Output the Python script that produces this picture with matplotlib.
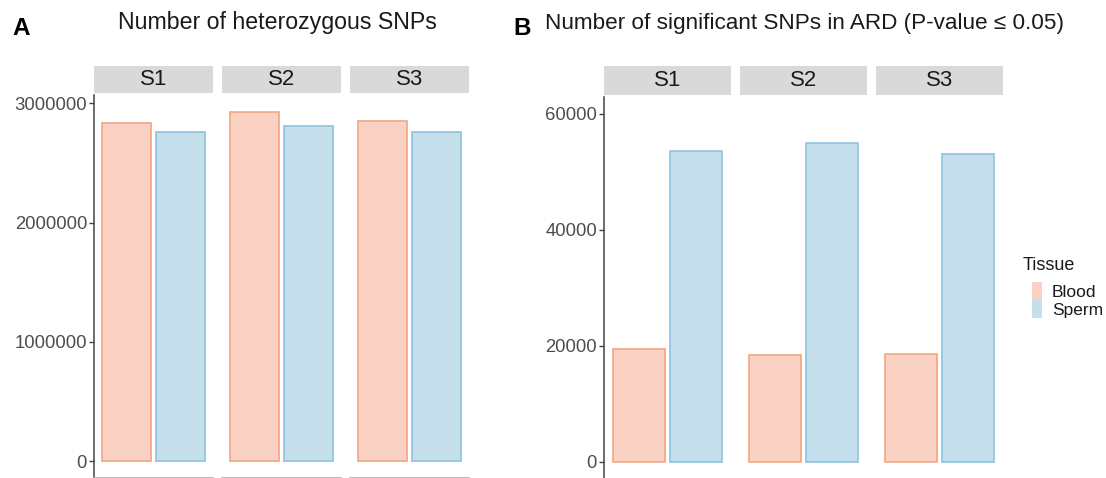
import matplotlib
matplotlib.use("Agg")
import matplotlib.pyplot as plt
from matplotlib.patches import Rectangle

plt.rcParams["font.family"] = ["Liberation Sans", "DejaVu Sans"]

SAMPLES = ["S1", "S2", "S3"]
TISSUES = ["Blood", "Sperm"]
HET_BLOOD = [2833000, 2925000, 2850000]
HET_SPERM = [2758000, 2808000, 2758000]
SIG_BLOOD = [19480, 18450, 18620]
SIG_SPERM = [53620, 55000, 53100]

FILL = {"Blood": "#F9D2C3", "Sperm": "#C6DFEC"}
EDGE = {"Blood": "#F4A582", "Sperm": "#8EC1DD"}

W, H = 1106, 478


def px_axes(fig, x0, y0, x1, y1):
    return fig.add_axes([x0 / W, 1 - y1 / H, (x1 - x0) / W, (y1 - y0) / H])


def facet_row(fig, xs, ytop, ybot, strip_top, strip_bot, blood, sperm, ylim, yticks, ylabels):
    for i, (x0, x1) in enumerate(xs):
        ax = px_axes(fig, x0, ytop, x1, ybot)
        vals = [blood[i], sperm[i]]
        ax.bar([1, 2], vals, width=0.9,
               color=[FILL[t] for t in TISSUES],
               edgecolor=[EDGE[t] for t in TISSUES], linewidth=1.2)
        ax.set_xlim(0.4, 2.6)
        ax.set_ylim(*ylim)
        ax.set_xticks([])
        for s in ("top", "right"):
            ax.spines[s].set_visible(False)
        ax.spines["bottom"].set_color("#B0B0B0")
        ax.spines["bottom"].set_linewidth(1.2)
        if i == 0:
            ax.spines["left"].set_color("#444444")
            ax.spines["left"].set_linewidth(1.1)
            ax.set_yticks(yticks)
            ax.set_yticklabels(ylabels)
            ax.tick_params(axis="y", length=3.5, width=1, color="#444444",
                           labelcolor="#4D4D4D", labelsize=13.3, pad=1.5)
        else:
            ax.spines["left"].set_visible(False)
            ax.set_yticks([])
        # strip
        st = px_axes(fig, x0, strip_top, x1, strip_bot)
        st.set_facecolor("#D9D9D9")
        st.set_xticks([])
        st.set_yticks([])
        for s in st.spines.values():
            s.set_visible(False)
        st.text(0.5, 0.5, SAMPLES[i], ha="center", va="center",
                fontsize=16, color="#1A1A1A", transform=st.transAxes)


def main():
    fig = plt.figure(figsize=(W / 100, H / 100), dpi=100)

    # panel A
    facet_row(fig, [(94, 213), (222, 341), (350, 469)], 95, 477.5, 66, 93,
              HET_BLOOD, HET_SPERM, (-138000, 3071000),
              [0, 1000000, 2000000, 3000000],
              ["0", "1000000", "2000000", "3000000"])
    # panel B
    facet_row(fig, [(604, 731), (740, 867), (876, 1003)], 96.6, 479.4, 66, 95,
              SIG_BLOOD, SIG_SPERM, (-3000, 63000),
              [0, 20000, 40000, 60000],
              ["0", "20000", "40000", "60000"])

    fig.text(12 / W, 1 - 35 / H, "A", fontsize=17.5, fontweight="bold",
             ha="left", va="baseline")
    fig.text(277 / W, 1 - 29 / H, "Number of heterozygous SNPs", fontsize=16.7,
             ha="center", va="baseline", color="#1A1A1A")
    fig.text(513 / W, 1 - 35 / H, "B", fontsize=17.5, fontweight="bold",
             ha="left", va="baseline")
    fig.text(545 / W, 1 - 29 / H, "Number of significant SNPs in ARD (P-value \u2264 0.05)",
             fontsize=16.2, ha="left", va="baseline", color="#1A1A1A")

    # legend
    fig.text(1023 / W, 1 - 270 / H, "Tissue", fontsize=13, ha="left",
             va="baseline", color="#1A1A1A")
    for k, t in enumerate(TISSUES):
        y0 = 282 + 18 * k
        fig.patches.append(Rectangle((1032 / W, 1 - (y0 + 18) / H), 10 / W, 18 / H,
                                     transform=fig.transFigure, facecolor=FILL[t],
                                     edgecolor="none"))
        fig.text(1052 / W, 1 - (y0 + 15) / H, t, fontsize=12.5, ha="left",
                 va="baseline", color="#1A1A1A")

    fig.savefig("out.png", dpi=100)


if __name__ == "__main__":
    main()
